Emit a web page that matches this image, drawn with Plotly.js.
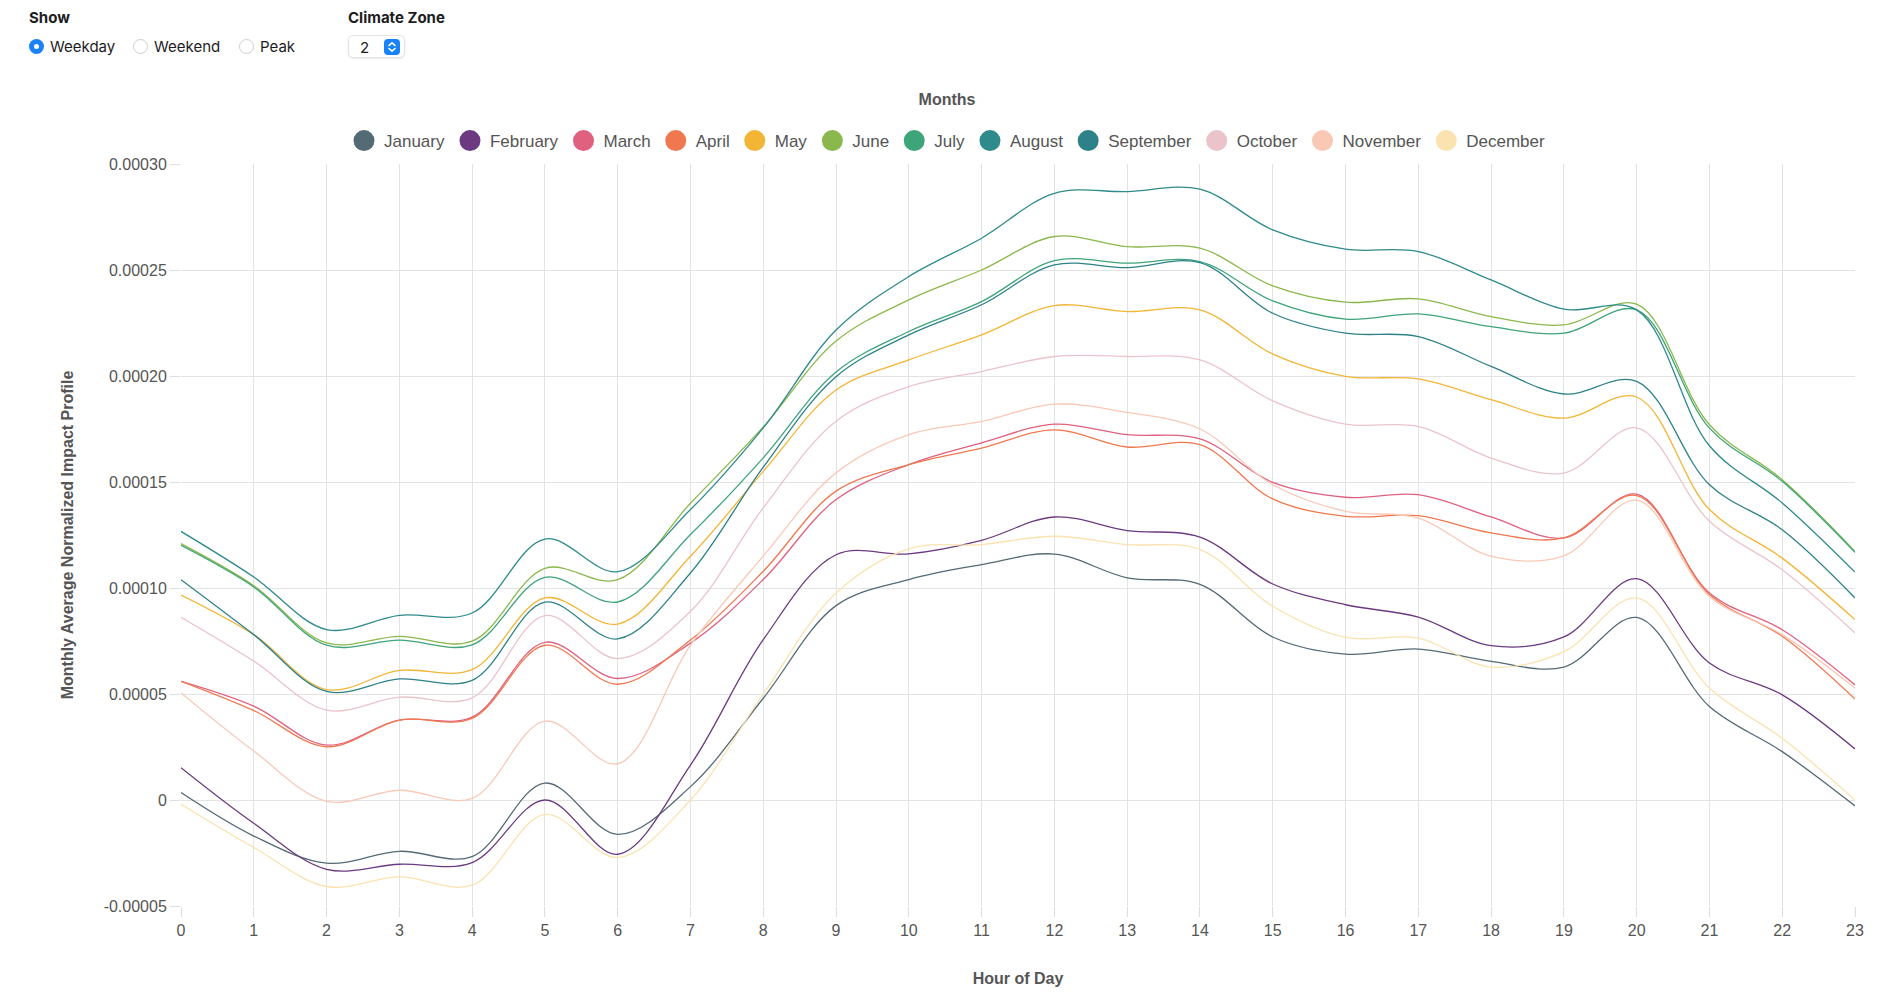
<!DOCTYPE html>
<html>
<head>
<meta charset="utf-8">
<script src="https://cdn.plot.ly/plotly-3.0.1.min.js"></script>
<style>
  html, body { margin: 0; padding: 0; background: #fff; }
  body { width: 1894px; height: 1000px; position: relative; overflow: hidden; font-family: Inter, "Liberation Sans", sans-serif; }
  #chart { position: absolute; left: 0; top: 0; width: 1894px; height: 1000px; }
  .controls { position: absolute; left: 0; top: 0; z-index: 2; }
  .label { position: absolute; font-weight: 700; font-size: 15px; color: #1d1d1f; white-space: nowrap; }
  .opt { position: absolute; top: 36px; height: 20px; display: flex; align-items: center; font-size: 15px; color: #1d1d1f; white-space: nowrap; }
  .radio { width: 15px; height: 15px; border-radius: 50%; box-sizing: border-box; border: 1px solid #cfcfcf; background: #fff; margin-right: 6px; }
  .radio.on { border: none; background: #1a82f8; position: relative; }
  .radio.on::after { content: ""; position: absolute; left: 5px; top: 5px; width: 5px; height: 5px; border-radius: 50%; background: #fff; }
  .select { position: absolute; left: 348px; top: 35px; width: 57px; height: 23px; box-sizing: border-box; border: 1px solid #e2e2e2; border-radius: 5px; background: #fff; box-shadow: 0 1px 2px rgba(0,0,0,0.08); font-size: 15px; color: #1d1d1f; }
  .select span { position: absolute; left: 11px; top: 2px; }
  .select i { position: absolute; right: 4px; top: 3px; width: 16px; height: 16px; border-radius: 4px; background: #1a82f8; }
  .select svg { position: absolute; left: 0; top: 0; }
</style>
</head>
<body>
<div class="controls">
  <div class="label" style="left:29px; top:8px;">Show</div>
  <div class="opt" style="left:29px;"><div class="radio on"></div>Weekday</div>
  <div class="opt" style="left:133px;"><div class="radio"></div>Weekend</div>
  <div class="opt" style="left:239px;"><div class="radio"></div>Peak</div>
  <div class="label" style="left:348px; top:8px;">Climate Zone</div>
  <div class="select"><span>2</span><i><svg width="16" height="16" viewBox="0 0 16 16"><path d="M5 6.5 L8 3.8 L11 6.5 M5 9.5 L8 12.2 L11 9.5" fill="none" stroke="#fff" stroke-width="1.6" stroke-linecap="round" stroke-linejoin="round"/></svg></i></div>
</div>
<div id="chart"></div>
<script>
const hours = [0, 1, 2, 3, 4, 5, 6, 7, 8, 9, 10, 11, 12, 13, 14, 15, 16, 17, 18, 19, 20, 21, 22, 23];

const months = ["January", "February", "March", "April", "May", "June",
  "July", "August", "September", "October", "November", "December"];

const colors = ["#546a75", "#6b3a80", "#e0607f", "#f07850", "#f2b535", "#8bb84c",
  "#3ea47a", "#2e8a8b", "#2d8289", "#ebc3cb", "#f9c9b6", "#fbe2b1"];

const january = [0.0000035, -0.000017, -0.0000298, -0.0000242, -0.0000267, 0.000008, -0.0000162, 0.0000063,
  0.000048, 0.0000917, 0.000104, 0.000111, 0.000116, 0.0001048, 0.0001017, 0.0000769,
  0.0000688, 0.0000712, 0.0000654, 0.0000627, 0.0000861, 0.0000441, 0.0000228, -0.0000028];
const february = [0.0000152, -0.0000110, -0.0000327, -0.0000303, -0.0000295, 0.0, -0.0000256, 0.0000165,
  0.0000756, 0.0001157, 0.0001161, 0.0001225, 0.0001335, 0.0001271, 0.000124, 0.0001019,
  0.0000921, 0.0000863, 0.0000728, 0.0000769, 0.0001044, 0.0000646, 0.0000496, 0.0000241];
const march = [0.000056, 0.0000443, 0.0000259, 0.0000377, 0.0000391, 0.0000744, 0.0000573, 0.000074,
  0.000104, 0.0001417, 0.0001582, 0.0001684, 0.0001773, 0.0001723, 0.0001703, 0.0001498,
  0.0001428, 0.000144, 0.0001335, 0.0001236, 0.0001443, 0.0000976, 0.0000803, 0.0000543];
const april = [0.000056, 0.0000422, 0.0000251, 0.0000377, 0.0000385, 0.000073, 0.0000546, 0.0000755,
  0.0001079, 0.0001457, 0.0001582, 0.000166, 0.0001746, 0.0001665, 0.0001676, 0.000142,
  0.0001338, 0.0001341, 0.000126, 0.0001236, 0.0001436, 0.0000969, 0.0000772, 0.0000476];
const may = [0.0000967, 0.000078, 0.0000521, 0.0000611, 0.0000615, 0.0000953, 0.000083, 0.000115,
  0.000155, 0.0001934, 0.0002076, 0.0002194, 0.0002332, 0.0002304, 0.0002312, 0.0002103,
  0.0001998, 0.0001986, 0.0001888, 0.0001801, 0.0001901, 0.000137, 0.0001141, 0.0000851];
const june = [0.0001209, 0.0001011, 0.0000741, 0.0000772, 0.0000749, 0.0001093, 0.0001039, 0.00014,
  0.000176, 0.0002165, 0.0002359, 0.00025, 0.0002658, 0.000261, 0.0002603, 0.0002425,
  0.0002348, 0.0002364, 0.000228, 0.0002241, 0.0002339, 0.000177, 0.0001511, 0.0001173];
const july = [0.0001201, 0.0001005, 0.000073, 0.0000754, 0.0000732, 0.000105, 0.0000934, 0.0001252,
  0.0001614, 0.0002019, 0.000221, 0.0002351, 0.0002544, 0.0002532, 0.000254, 0.0002354,
  0.0002268, 0.0002293, 0.0002233, 0.0002202, 0.0002312, 0.0001754, 0.0001503, 0.0001168];
const august = [0.0001267, 0.0001052, 0.0000804, 0.0000871, 0.0000882, 0.0001231, 0.0001077, 0.000137,
  0.0001755, 0.0002217, 0.0002469, 0.000265, 0.0002862, 0.000287, 0.0002881, 0.0002689,
  0.0002598, 0.0002587, 0.0002453, 0.0002315, 0.0002312, 0.0001671, 0.0001401, 0.0001075];
const september = [0.0001039, 0.000078, 0.0000512, 0.0000571, 0.0000564, 0.0000933, 0.000076, 0.0001071,
  0.000157, 0.0001997, 0.0002194, 0.0002336, 0.0002524, 0.0002511, 0.0002535, 0.0002296,
  0.0002202, 0.0002186, 0.0002045, 0.0001915, 0.0001975, 0.0001487, 0.0001275, 0.0000953];
const october = [0.0000862, 0.0000655, 0.0000424, 0.0000485, 0.0000482, 0.000087, 0.0000667, 0.000089,
  0.0001378, 0.0001787, 0.000195, 0.0002021, 0.0002092, 0.0002092, 0.0002076, 0.0001883,
  0.0001773, 0.0001762, 0.0001613, 0.0001542, 0.0001755, 0.0001315, 0.0001086, 0.0000788];
const november = [0.0000505, 0.0000231, -0.0000006, 0.0000046, 0.0000008, 0.0000372, 0.0000171, 0.000073,
  0.000115, 0.0001543, 0.0001723, 0.0001786, 0.0001867, 0.0001828, 0.000175, 0.0001487,
  0.0001362, 0.000133, 0.000115, 0.0001152, 0.0001414, 0.000096, 0.000078, 0.0000528];
const december = [-0.000002, -0.0000224, -0.0000408, -0.0000363, -0.0000402, -0.0000068, -0.0000271, 0.0,
  0.00005, 0.0000976, 0.0001185, 0.0001205, 0.0001244, 0.0001205, 0.0001182, 0.0000914,
  0.0000767, 0.0000764, 0.0000627, 0.00007, 0.0000953, 0.0000528, 0.0000291, 0.0];

const values = [january, february, march, april, may, june,
  july, august, september, october, november, december];

const yTickVals = [-0.00005, 0, 0.00005, 0.0001, 0.00015, 0.0002, 0.00025, 0.0003];
const yTickText = ["-0.00005", "0", "0.00005", "0.00010", "0.00015", "0.00020", "0.00025", "0.00030"];

const traces = [];
// the lines themselves
months.forEach((m, i) => {
  traces.push({
    name: m,
    x: hours,
    y: values[i],
    type: "scatter",
    mode: "lines",
    legendgroup: m,
    showlegend: false,
    hoverinfo: "skip",
    line: { color: colors[i], width: 1.3, shape: "spline", smoothing: 1 },
  });
});
// round legend keys (legend caps marker size at 16, the outline makes them bigger)
months.forEach((m, i) => {
  traces.push({
    name: m,
    x: [null],
    y: [null],
    type: "scatter",
    mode: "markers",
    legendgroup: m,
    marker: { color: colors[i], size: 16, symbol: "circle", line: { color: colors[i], width: 5 } },
  });
});

const axisFont = { family: "Liberation Sans, Arial, sans-serif", size: 16, color: "#555" };

Plotly.newPlot(
  "chart",
  traces,
  {
    width: 1894,
    height: 1000,
    margin: { l: 181, r: 39, t: 164, b: 94 },
    paper_bgcolor: "#fff",
    plot_bgcolor: "#fff",
    font: axisFont,
    title: {
      text: "<b>Months</b>",
      xref: "container",
      yref: "container",
      x: 0.5,
      y: 0.901,
      xanchor: "center",
      yanchor: "middle",
      font: { family: "Liberation Sans, Arial, sans-serif", size: 16, color: "#555" },
    },
    legend: {
      orientation: "h",
      xref: "container",
      yref: "container",
      x: 0.5,
      y: 0.859,
      xanchor: "center",
      yanchor: "middle",
      font: { family: "Liberation Sans, Arial, sans-serif", size: 17, color: "#555" },
      itemwidth: 30,
    },
    xaxis: {
      range: [0, 23],
      tickvals: hours,
      ticks: "outside",
      ticklen: 10,
      tickcolor: "#dedede",
      showgrid: true,
      gridcolor: "#e3e3e3",
      zeroline: false,
      showline: false,
      tickfont: axisFont,
      title: { text: "<b>Hour of Day</b>", font: axisFont, standoff: 34 },
      fixedrange: true,
    },
    yaxis: {
      range: [-0.00005, 0.0003],
      tickvals: yTickVals,
      ticktext: yTickText,
      ticks: "outside",
      ticklen: 10,
      tickcolor: "#dedede",
      showgrid: true,
      gridcolor: "#e3e3e3",
      zeroline: false,
      showline: false,
      tickfont: axisFont,
      title: { text: "<b>Monthly Average Normalized Impact Profile</b>", font: axisFont, standoff: 26 },
      fixedrange: true,
    },
    hovermode: false,
  },
  { displayModeBar: false, staticPlot: true }
);
</script>
</body>
</html>
